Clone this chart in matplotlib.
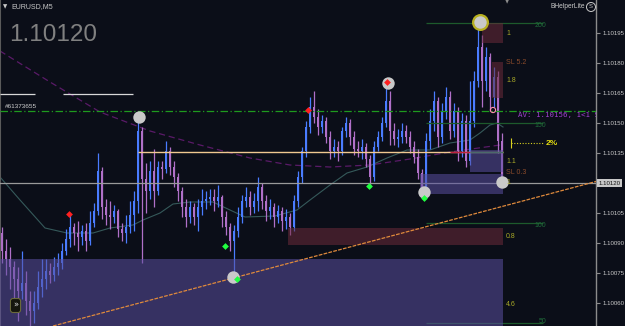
import numpy as np
import matplotlib
matplotlib.use("Agg")
import matplotlib.pyplot as plt
from matplotlib.patches import Rectangle, Circle
from matplotlib.transforms import IdentityTransform

BG = "#0b0e18"
BULL = "#4a7cff"
BEAR = "#b070c8"
BASE = 1.10000      # prices below are stored in points (1e-5) above BASE
PT = 1e-5

# ---------------- candle data (EURUSD M5), points above 1.10000 ----------------
opens = [95, 86, 82, 78, 72, 66, 70, 61, 56, 60,
         68, 72, 76, 74, 78, 80, 86, 92, 98, 95,
         93, 96, 91, 100, 106, 126, 108, 104, 103, 106,
         97, 95, 98, 104, 111, 146, 122, 116, 126, 116,
         128, 127, 136, 128, 123, 116, 108, 103, 108, 103,
         108, 111, 112, 113, 111, 113, 103, 98, 91, 96,
         103, 111, 113, 108, 111, 118, 111, 106, 108, 103,
         106, 101, 103, 98, 111, 123, 136, 148, 158, 153,
         148, 151, 143, 136, 138, 136, 146, 150, 143, 137,
         136, 138, 132, 123, 138, 143, 150, 161, 146, 142,
         143, 146, 143, 138, 133, 125, 118, 141, 151, 161,
         143, 156, 163, 146, 156, 136, 151, 131, 151, 171,
         188, 171, 183, 163, 173, 141]
closes = [86, 82, 78, 72, 66, 70, 61, 56, 60, 68,
          72, 76, 74, 78, 80, 86, 92, 98, 95, 93,
          96, 91, 100, 106, 126, 108, 104, 103, 106, 97,
          95, 98, 104, 111, 146, 122, 116, 126, 116, 128,
          127, 136, 128, 123, 116, 108, 103, 108, 103, 108,
          111, 112, 113, 111, 113, 103, 98, 91, 96, 103,
          111, 113, 108, 111, 118, 111, 106, 108, 103, 106,
          101, 103, 98, 111, 123, 136, 148, 158, 153, 148,
          151, 143, 136, 138, 136, 146, 150, 143, 137, 136,
          138, 132, 123, 138, 143, 150, 161, 146, 142, 143,
          146, 143, 138, 133, 125, 118, 141, 151, 161, 143,
          156, 163, 146, 156, 136, 151, 131, 151, 171, 188,
          171, 183, 163, 173, 141, 120]
highs = [98, 92, 88, 81, 78, 86, 76, 66, 66, 76,
         82, 82, 80, 83, 85, 90, 97, 104, 100, 101,
         99, 100, 106, 110, 135, 128, 112, 111, 109, 107,
         100, 104, 111, 116, 152, 148, 130, 131, 137, 131,
         131, 141, 138, 131, 125, 118, 112, 111, 110, 112,
         117, 116, 117, 117, 119, 114, 106, 100, 99, 108,
         114, 118, 116, 115, 123, 120, 114, 112, 110, 109,
         108, 107, 105, 114, 126, 138, 151, 163, 166, 157,
         154, 153, 146, 142, 141, 148, 153, 152, 146, 141,
         142, 140, 134, 141, 146, 153, 169, 166, 150, 147,
         150, 149, 146, 141, 137, 127, 145, 157, 166, 163,
         160, 168, 166, 160, 158, 155, 154, 171, 176, 200,
         194, 188, 185, 178, 176, 145]
lows = [80, 74, 67, 57, 51, 62, 54, 48, 50, 57,
        63, 67, 70, 71, 74, 77, 84, 88, 89, 86,
        89, 86, 89, 98, 104, 102, 99, 97, 100, 93,
        91, 90, 95, 96, 105, 80, 105, 112, 108, 114,
        122, 125, 124, 118, 111, 103, 98, 100, 99, 96,
        104, 107, 109, 106, 108, 98, 94, 86, 72, 93,
        100, 108, 104, 105, 106, 107, 101, 102, 98, 100,
        96, 97, 94, 96, 108, 120, 133, 145, 150, 144,
        145, 140, 132, 133, 131, 134, 143, 139, 134, 133,
        132, 128, 118, 121, 136, 141, 148, 139, 139, 138,
        140, 140, 135, 130, 122, 113, 116, 137, 146, 138,
        140, 152, 142, 143, 131, 133, 128, 129, 148, 168,
        158, 166, 156, 158, 135, 119]

# moving averages (bar index, points)
ma_fast_bars = [-0.5, 4.5, 10.75, 16.25, 22.75, 27, 32.75, 35.25, 39.5, 42.75, 47, 52.75,
                57, 60.75, 68.25, 73.75, 77, 82, 86.25, 91.25, 96.25, 101.25, 107, 112,
                117, 119.5, 122, 123.75, 125.25]
ma_fast_vals = [123, 111.5, 97.5, 95, 95, 97.5, 99, 101.5, 105, 109.5, 110.5, 110.5,
                106.5, 103, 103.5, 106.5, 111.5, 119, 125, 128, 132.5, 136.5, 136.5, 140,
                141.5, 145, 149, 150, 148]
ma_slow_bars = [-0.5, 12, 24.5, 37, 49.5, 62, 72, 82, 92, 102, 112, 124.5]
ma_slow_vals = [186, 170.5, 155.5, 146, 139, 132.5, 129, 128, 129, 132, 135.5, 139]

# levels
current_price = 1.10120
av_price = 1.10156
level_line = 1.101355
round_levels = [1.10200, 1.10150, 1.10100, 1.10050]
round_labels = ["200", "150", "100", "50"]
white_level = 1.101645

# swing markers (bar, points)
swing_bars = [34.25, 57.75, 96.5, 105.5, 119.5, 125.0]
swing_vals = [153, 73, 170, 115.5, 200.5, 120.5]
fractal_up_bars = [16.75, 76.5, 96.25]
fractal_up_vals = [104.5, 156.5, 170.5]
fractal_dn_bars = [55.75, 58.75, 91.75, 105.5]
fractal_dn_vals = [88.5, 72, 118.5, 112.5]

# zones: (bar0, bar1, pts_low, pts_high, kind)
zones = [(-0.5, 125.25, 40, 82, "demand"),
         (104.5, 125.25, 114.5, 124.5, "demand"),
         (117.0, 125.25, 125.5, 136.5, "demand"),
         (120.0, 125.25, 190, 200, "supply"),
         (122.5, 125.25, 162.5, 180.5, "supply"),
         (71.5, 125.25, 89, 97.5, "supply")]

# trendline anchors (bar, points)
trend_bars = [12.75, 148.5]
trend_vals = [48.5, 120.75]

# value labels on the right of the trade boxes
box_labels = ["1", "SL 5.2", "1.8", "1.1", "SL 0.3", "1", "0.8", "4.6"]
box_label_vals = [195, 180.5, 171.5, 131, 125.5, 120, 93.5, 59]

tick_vals = [1.10060, 1.10075, 1.10090, 1.10105, 1.10120, 1.10135, 1.10150, 1.10165, 1.10180, 1.10195]

# ---------------- drawing ----------------
W, H = 625, 326
fig = plt.figure(figsize=(W / 100, H / 100), dpi=100, facecolor=BG)
ax = fig.add_axes([0, 0, 596 / W, 1])
ax.set_facecolor(BG)
ymin, ymax = BASE + 48.5 * PT, BASE + 211.5 * PT
ax.set_ylim(ymin, ymax)
ax.set_xlim(-0.5, 148.5)

o = BASE + np.array(opens) * PT
c = BASE + np.array(closes) * PT
h = BASE + np.array(highs) * PT
l = BASE + np.array(lows) * PT
x = np.arange(len(o))
cols = [BULL if cc >= oo else BEAR for oo, cc in zip(o, c)]

# moving averages
ax.plot(ma_slow_bars, BASE + np.array(ma_slow_vals) * PT, color="#5a1a68", lw=0.9,
        ls=(0, (5, 3)), zorder=1)
ax.plot(ma_fast_bars, BASE + np.array(ma_fast_vals) * PT, color="#35595a", lw=0.8, zorder=1)

# candles
ax.vlines(x, l, h, colors=cols, lw=0.9, zorder=2)
body_h = np.maximum(np.abs(c - o), 0.4 * PT)
ax.bar(x, body_h, bottom=np.minimum(o, c), width=0.7, color=cols, lw=0, zorder=2)

# horizontal lines
ax.axhline(av_price, color="#1e9a1e", lw=0.9, ls=(0, (6, 2, 1, 2)), zorder=3)
ax.axhline(current_price, color="#9a9a9a", lw=0.9, zorder=3)
ax.hlines(level_line, 34, 125.25, color="#f0c890", lw=1.0, zorder=3)
ax.hlines(level_line, 112, 117, color="#c02040", lw=1.0, zorder=3)
ax.hlines(level_line, 117, 125.25, color="#3a8a2a", lw=1.0, zorder=3)
ax.hlines(white_level, -0.5, 8.25, color="#d8d8d8", lw=0.9, zorder=3)
ax.hlines(white_level, 15.25, 32.75, color="#d8d8d8", lw=0.9, zorder=3)
for lv, lb in zip(round_levels, round_labels):
    ax.hlines(lv, 106, 135.25, color="#1d5a2c", lw=0.9, zorder=3)
    ty = max(lv - 1.2 * PT, ymin + 2.2 * PT)
    ax.text(136.0, ty, lb, color="#1f6b3a", fontsize=5, ha="right", va="center",
            family="Liberation Sans", zorder=5, clip_on=True)

# zones
for b0, b1, p0, p1, kind in zones:
    if kind == "demand":
        fc, al = "#5a4fa0", 0.55
    else:
        fc, al = "#6a2a3a", 0.55
    ax.add_patch(Rectangle((b0, BASE + p0 * PT), b1 - b0, (p1 - p0) * PT, facecolor=fc,
                           alpha=al, lw=0, zorder=4))

# trend line
ax.plot(trend_bars, BASE + np.array(trend_vals) * PT, color="#e08a3c", lw=0.9,
        ls=(0, (3, 1)), zorder=5)

# swing circles
ax.scatter(swing_bars[4], BASE + swing_vals[4] * PT, s=150, color="#b8b020", zorder=6, lw=0)
ax.scatter(swing_bars, BASE + np.array(swing_vals) * PT, s=80, color="#c9c9c9", zorder=7, lw=0)
ax.scatter(fractal_up_bars, BASE + np.array(fractal_up_vals) * PT, s=12, marker="D",
           color="#ff2020", zorder=8, lw=0)
ax.scatter(fractal_dn_bars, BASE + np.array(fractal_dn_vals) * PT, s=12, marker="D",
           color="#20ff40", zorder=8, lw=0)
ax.scatter([122.75], [BASE + 156.5 * PT], s=14, facecolors="none", edgecolors="#ff90b0",
           lw=0.8, zorder=8)

# box labels
for lb, v in zip(box_labels, box_label_vals):
    col = "#8a4a2a" if lb.startswith("SL") else "#a8a828"
    ax.text(126.0, BASE + v * PT, lb, color=col, fontsize=5, ha="left", va="center",
            family="Liberation Sans", zorder=9)

# AV label
ax.text(129.0, BASE + 154 * PT, "AV: 1.10156, 1<1 S", color="#a040d0", fontsize=5.4,
        family="DejaVu Sans Mono", ha="left", va="center", clip_on=True, zorder=9)
# 2% ruler
ax.hlines(BASE + 140 * PT, 127.25, 135.25, color="#d8d020", lw=0.8, ls=(0, (1, 1.5)), zorder=9)
ax.vlines(127.25, BASE + 137.5 * PT, BASE + 142.5 * PT, color="#d8d020", lw=0.8, zorder=9)
ax.text(136.0, BASE + 140 * PT, "2%", color="#e8e010", fontsize=6, fontweight="bold",
        family="Liberation Sans", ha="left", va="center", zorder=9)

# axis styling
for s in ["top", "bottom"]:
    ax.spines[s].set_visible(False)
ax.spines["right"].set_color("#8c8c8c")
ax.spines["right"].set_linewidth(1.0)
ax.spines["left"].set_color("#5a5a5a")
ax.spines["left"].set_linewidth(1.5)
ax.set_xticks([])
ax.yaxis.tick_right()
ax.set_yticks(tick_vals)
ax.set_yticklabels(["" if abs(t - current_price) < 1e-7 else f"{t:.5f}" for t in tick_vals])
ax.tick_params(axis="y", colors="#8c8c8c", labelcolor="#c8c8c8", labelsize=4.4, length=3,
               width=0.8, pad=2)
for tl in ax.get_yticklabels():
    tl.set_family("Liberation Sans")
ax.text(1.004, (current_price - ymin) / (ymax - ymin), f"{current_price:.5f}",
        transform=ax.transAxes, fontsize=4.4, family="Liberation Sans", color="#101010",
        ha="left", va="center", clip_on=False,
        bbox=dict(boxstyle="square,pad=0.25", fc="#c8c8c8", ec="none"))

# overlays (figure pixel coords)
def fx(px):
    return px / W

def fy(py):
    return 1 - py / H

fig.text(fx(3), fy(6.5), "\u25bc", color="#c8c8c8", fontsize=4, va="center", ha="left")
fig.text(fx(11), fy(6.5), "EURUSD,M5", color="#c8c8c8", fontsize=5, va="center", ha="left",
         family="Liberation Sans")
fig.text(fx(9), fy(35), "1.10120", color="#808080", fontsize=17.5, va="center", ha="left",
         family="Liberation Sans")
fig.text(fx(5), fy(106), "#61373655", color="#d0d0d0", fontsize=4.6, va="center", ha="left",
         family="Liberation Sans")
fig.text(fx(585), fy(7), "BHelperLite", color="#c8c8c8", fontsize=4.8, va="center", ha="right",
         family="Liberation Sans")
# circled S icon (pixel-space circle so it stays round)
fig.patches.append(Circle((591, H - 7), radius=4.5, transform=IdentityTransform(),
                          facecolor="none", edgecolor="#c8c8c8", lw=0.7, figure=fig))
fig.text(fx(591), fy(7), "S", color="#c8c8c8", fontsize=4.2, va="center", ha="center",
         family="Liberation Sans")
fig.text(fx(507), fy(2), "\u25bc", color="#8c8c8c", fontsize=4, va="center", ha="center")
fig.text(fx(15.5), fy(305.5), "\u00bb", color="#e0e0e0", fontsize=6, va="center", ha="center",
         bbox=dict(boxstyle="round,pad=0.3", fc="#15160e", ec="#6a6a3a", lw=0.8))

fig.savefig("out.png", dpi=100, facecolor=BG)
